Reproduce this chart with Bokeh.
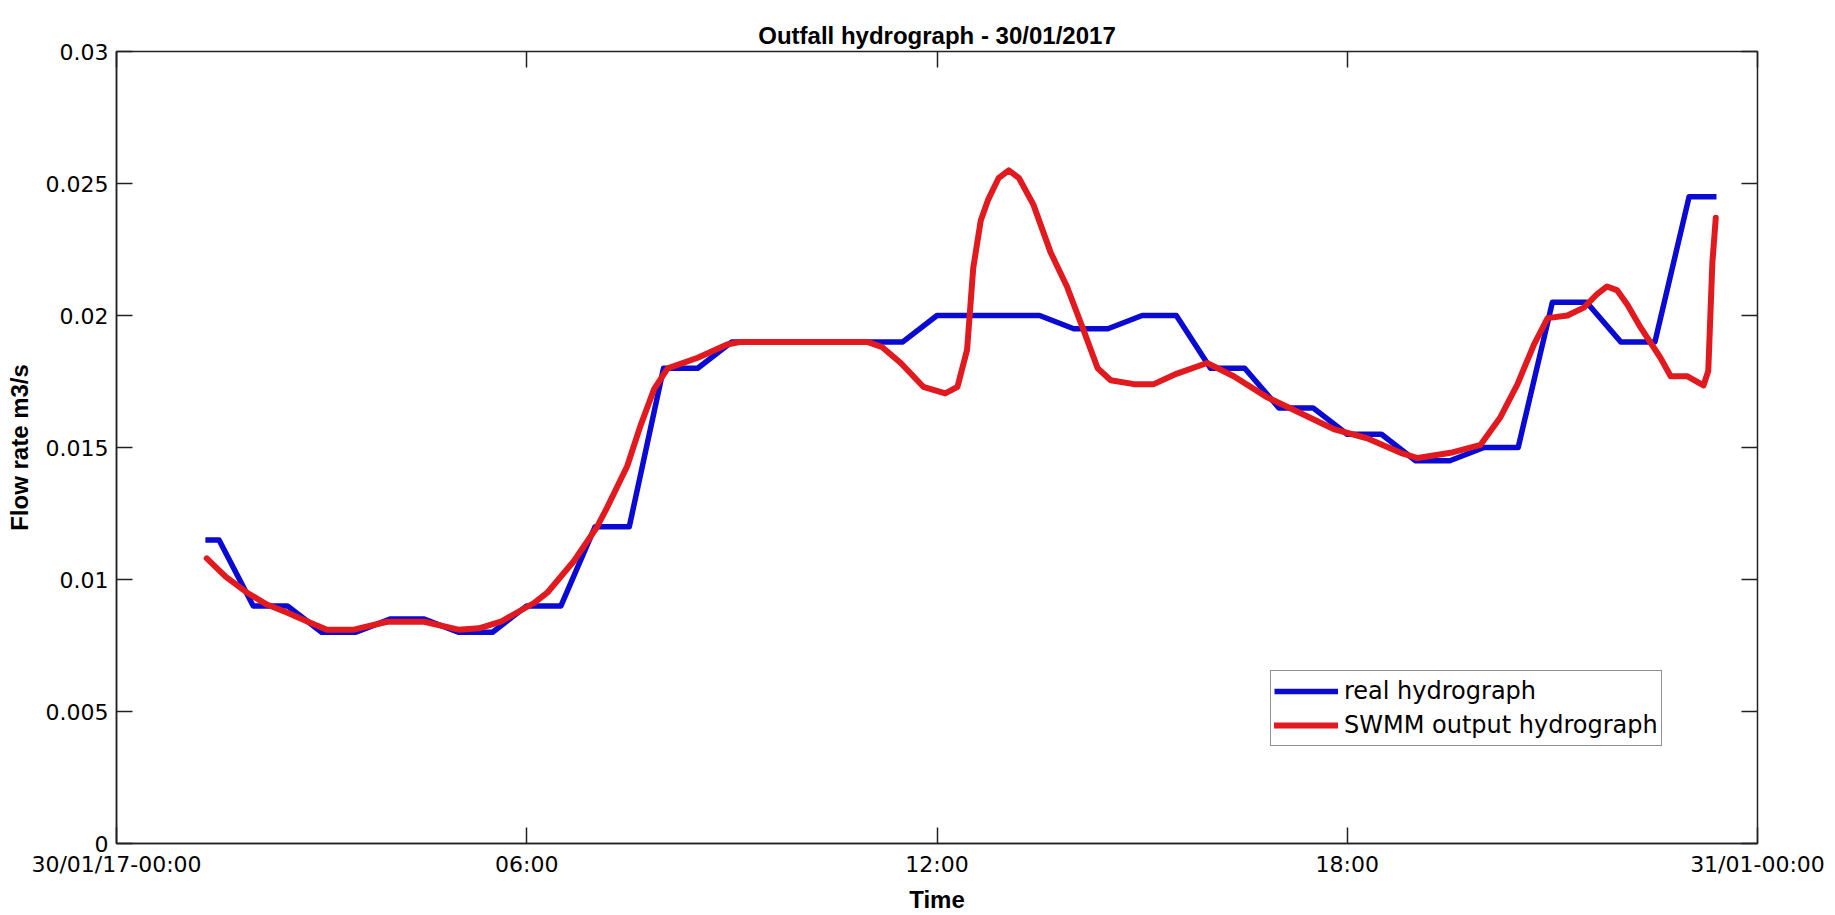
from bokeh.plotting import figure
from bokeh.models import (Range1d, FixedTicker, LinearAxis, Legend, LegendItem)
from bokeh.embed import file_html
from bokeh.resources import INLINE

# ---- data (hours after 30/01/2017 00:00, flow in m3/s) ----
blue_hours = [1.3, 1.5, 2.0, 2.5, 3.0, 3.5, 4.0, 4.5, 5.0, 5.5, 6.0, 6.5, 7.0, 7.5,
              8.0, 8.5, 9.0, 11.5, 12.0, 13.5, 14.0, 14.5, 15.0, 15.5, 16.0, 16.5,
              17.0, 17.5, 18.0, 18.5, 19.0, 19.5, 20.0, 20.5, 21.0, 21.5, 22.0, 22.5,
              23.0, 23.4]
blue_flow = [0.0115, 0.0115, 0.009, 0.009, 0.008, 0.008, 0.0085, 0.0085, 0.008, 0.008,
             0.009, 0.009, 0.012, 0.012, 0.018, 0.018, 0.019, 0.019, 0.020, 0.020,
             0.0195, 0.0195, 0.020, 0.020, 0.018, 0.018, 0.0165, 0.0165, 0.0155, 0.0155,
             0.0145, 0.0145, 0.015, 0.015, 0.0205, 0.0205, 0.019, 0.019, 0.0245, 0.0245]

red_hours = [1.32, 1.6, 1.91, 2.2, 2.5, 2.8, 3.08, 3.47, 3.96, 4.5, 5.0, 5.3, 5.62, 6.1,
             6.3, 6.69, 7.03, 7.18, 7.47, 7.66, 7.86, 8.06, 8.5, 8.93, 9.13, 10.98, 11.2,
             11.47, 11.8, 12.12, 12.3, 12.44, 12.53, 12.64, 12.75, 12.9, 13.05, 13.2,
             13.41, 13.66, 13.9, 14.15, 14.35, 14.54, 14.88, 15.17, 15.51, 15.95, 16.34,
             16.83, 17.32, 17.8, 18.29, 18.78, 19.03, 19.51, 19.95, 20.24, 20.49, 20.73,
             20.93, 21.22, 21.46, 21.65, 21.8, 21.95, 22.1, 22.29, 22.58, 22.73, 22.97,
             23.21, 23.28, 23.34, 23.39]
red_flow = [0.0108, 0.0101, 0.0095, 0.00905, 0.00874, 0.0084, 0.0081, 0.0081, 0.0084,
            0.0084, 0.0081, 0.00815, 0.0084, 0.0091, 0.0095, 0.0107, 0.012, 0.01275,
            0.0143, 0.0158, 0.0172, 0.018, 0.0184, 0.0189, 0.019, 0.019, 0.0188, 0.0182,
            0.0173, 0.01705, 0.0173, 0.0187, 0.0218, 0.0236, 0.0244, 0.0252, 0.0255,
            0.0252, 0.0242, 0.0224, 0.0211, 0.0194, 0.018, 0.01755, 0.0174, 0.0174,
            0.0178, 0.0182, 0.0177, 0.0169, 0.0163, 0.0157, 0.01535, 0.0148, 0.0146,
            0.0148, 0.0151, 0.01615, 0.0174, 0.0189, 0.0199, 0.020, 0.0203, 0.0208,
            0.0211, 0.02095, 0.0204, 0.01955, 0.0184, 0.0177, 0.0177, 0.01735, 0.0179,
            0.022, 0.0237]

x_ticks = [0, 6, 12, 18, 24]
x_tick_labels = ["30/01/17-00:00", "06:00", "12:00", "18:00", "31/01-00:00"]
y_ticks = [0, 0.005, 0.01, 0.015, 0.02, 0.025, 0.03]
y_tick_labels = ["0", "0.005", "0.01", "0.015", "0.02", "0.025", "0.03"]

FONT = "DejaVu Sans"
BOLD_FONT = "Liberation Sans"
BLUE = "#0a0ad2"
RED = "#e01a1f"

p = figure(width=1835, height=915, output_backend="svg", toolbar_location=None,
           x_range=Range1d(0, 24), y_range=Range1d(0, 0.03),
           min_border_left=116, min_border_right=78, min_border_top=51,
           min_border_bottom=71, title="Outfall hydrograph - 30/01/2017")
p.background_fill_color = "white"
p.border_fill_color = "white"
p.grid.visible = False
p.outline_line_color = "#222222"
p.outline_line_width = 1.5

p.title.align = "center"
p.title.text_font = BOLD_FONT
p.title.text_font_size = "24px"
p.title.text_font_style = "bold"
p.title.text_color = "black"
p.title.standoff = 6

xa = p.xaxis[0]
xa.ticker = FixedTicker(ticks=x_ticks)
xa.major_label_overrides = {t: l for t, l in zip(x_ticks, x_tick_labels)}
xa.axis_label = "Time"
ya = p.yaxis[0]
ya.ticker = FixedTicker(ticks=y_ticks)
ya.major_label_overrides = {t: l for t, l in zip(y_ticks, y_tick_labels)}
ya.axis_label = "Flow rate m3/s"

for ax in (xa, ya):
    ax.major_tick_in = 16
    ax.major_tick_out = 0
    ax.minor_tick_line_color = None
    ax.major_tick_line_color = "#222222"
    ax.major_tick_line_width = 1.5
    ax.axis_line_color = "#222222"
    ax.axis_line_width = 1.5
    ax.major_label_text_font = FONT
    ax.major_label_text_font_size = "22px"
    ax.major_label_text_color = "black"
    ax.major_label_standoff = 8
    ax.axis_label_text_font = BOLD_FONT
    ax.axis_label_text_font_size = "24px"
    ax.axis_label_text_font_style = "bold"
    ax.axis_label_text_color = "black"
xa.axis_label_standoff = 6
ya.axis_label_standoff = 10

top = LinearAxis(ticker=FixedTicker(ticks=x_ticks))
top.major_label_overrides = {t: "" for t in x_ticks}
p.add_layout(top, "above")
right = LinearAxis(ticker=FixedTicker(ticks=y_ticks))
right.major_label_overrides = {t: "" for t in y_ticks}
p.add_layout(right, "right")
for ax in (top, right):
    ax.major_tick_in = 16
    ax.major_tick_out = 0
    ax.minor_tick_line_color = None
    ax.major_tick_line_color = "#222222"
    ax.major_tick_line_width = 1.5
    ax.axis_line_color = None
    ax.major_label_standoff = 0

r_blue = p.line(blue_hours, blue_flow, line_color=BLUE, line_width=5.5,
                line_join="round")
r_red = p.line(red_hours, red_flow, line_color=RED, line_width=6,
               line_join="round", line_cap="round")

legend = Legend(items=[LegendItem(label="real hydrograph", renderers=[r_blue]),
                       LegendItem(label="SWMM output hydrograph", renderers=[r_red])],
                location=(1154, 97))
legend.label_text_font = FONT
legend.label_text_font_size = "24px"
legend.label_text_color = "black"
legend.glyph_width = 64
legend.glyph_height = 34
legend.label_height = 34
legend.label_standoff = 6
legend.padding = 3
legend.spacing = 0
legend.margin = 0
legend.border_line_color = "#222222"
legend.border_line_width = 1.5
legend.background_fill_color = "white"
legend.background_fill_alpha = 1.0
p.add_layout(legend, "center")

open("out.html", "w").write(file_html(p, INLINE))
